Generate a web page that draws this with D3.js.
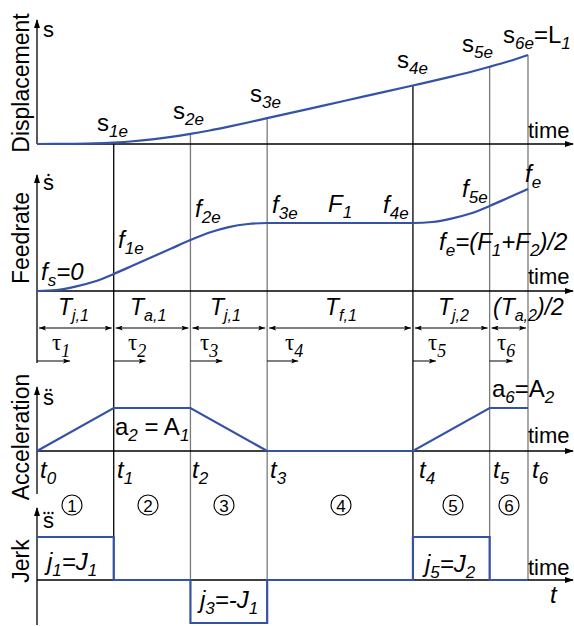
<!DOCTYPE html>
<html>
<head>
<meta charset="utf-8">
<script src="https://cdn.jsdelivr.net/npm/d3@7"></script>
<style>
  html, body { margin: 0; padding: 0; background: #fff; }
  svg { display: block; }
</style>
</head>
<body>
<svg id="chart" width="574" height="626"></svg>
<script>
// ---- data -------------------------------------------------------------
// phase boundaries t0..t6
const phaseTimes = [0, 1, 2, 3, 4.9, 5.9, 6.4];
// acceleration at each boundary (units of A1 = A2)
const accelAtBoundary = [0, 1, 1, 0, 0, 1, 1];
// jerk held constant inside each of the six phases (units of J1 = J2)
const jerkPerPhase = [1, 0, -1, 0, 1, 0];
// feedrate and displacement samples along the move
const sampleTimes  = [0, 0.25, 0.5, 0.75, 1, 1.25, 1.5, 1.75, 2, 2.25, 2.5, 2.75, 3, 3.5, 4, 4.5, 4.9, 5.15, 5.4, 5.65, 5.9, 6.15, 6.4];
const feedrate     = [0, 0.03, 0.13, 0.28, 0.5, 0.75, 1.0, 1.25, 1.5, 1.72, 1.88, 1.97, 2.0, 2.0, 2.0, 2.0, 2.0, 2.03, 2.13, 2.28, 2.5, 2.75, 3.0];
const displacement = [0, 0.003, 0.02, 0.07, 0.17, 0.32, 0.54, 0.82, 1.17, 1.57, 2.02, 2.5, 3.0, 4.0, 5.0, 6.0, 6.8, 7.3, 7.82, 8.37, 8.97, 9.61, 10.34];
// displacement at each phase boundary
const dispAtBoundary = [0, 0.17, 1.17, 3.0, 6.8, 8.97, 10.34];
// interval names above the double arrows
const intervalNames = [
  [["T", "i"], ["j,1", "sub"]],
  [["T", "i"], ["a,1", "sub"]],
  [["T", "i"], ["j,1", "sub"]],
  [["T", "i"], ["f,1", "sub"]],
  [["T", "i"], ["j,2", "sub"]],
  [["(T", "i"], ["a,2", "sub"], [")/2", "i"]]
];
const tauNames = ["1", "2", "3", "4", "5", "6"];
const phaseNumbers = ["1", "2", "3", "4", "5", "6"];
const boundaryNames = ["0", "1", "2", "3", "4", "5", "6"];
const panelTitles = ["Displacement", "Feedrate", "Acceleration", "Jerk"];

// ---- layout -----------------------------------------------------------
const svg = d3.select("#chart");
const BLUE = "#3553a6";
const GREY = "#7a7a7a";
const SANS = "'Liberation Sans', Arial, sans-serif";
const SERIF = "'Liberation Serif', 'Times New Roman', serif";
const X_END = 573;

const x  = d3.scaleLinear().domain([0, 6.4]).range([37, 528]);
const yS = d3.scaleLinear().domain([0, 10.34]).range([144, 55]);
const yF = d3.scaleLinear().domain([0, 3]).range([291, 189]);
const yA = d3.scaleLinear().domain([0, 1]).range([451, 408]);
const yJ = d3.scaleLinear().domain([-1, 1]).range([623, 537]);

// arrow heads
const defs = svg.append("defs");
function marker(id, path, w, h, refX, refY) {
  defs.append("marker").attr("id", id)
    .attr("markerUnits", "userSpaceOnUse")
    .attr("markerWidth", w).attr("markerHeight", h)
    .attr("refX", refX).attr("refY", refY)
    .attr("orient", "auto")
    .append("path").attr("d", path).attr("fill", "#000");
}
marker("axisHead", "M0,0 L9,3 L0,6 Z", 9, 6, 8, 3);
marker("smallHead", "M0,0 L7,2.5 L0,5 L1.5,2.5 Z", 7, 5, 7, 2.5);
marker("smallTail", "M7,0 L0,2.5 L7,5 L5.5,2.5 Z", 7, 5, 0, 2.5);

// text with italic / subscript runs
function rich(x0, y0, parts, opt = {}) {
  const size = opt.size || 22;
  const sub = opt.sub || 15;
  const shift = opt.shift || 6;
  const t = svg.append("text")
    .attr("x", x0).attr("y", y0)
    .attr("font-family", opt.family || SANS)
    .attr("font-size", size)
    .attr("fill", "#000");
  let inSub = false;
  parts.forEach(([str, kind]) => {
    const s = t.append("tspan").text(str);
    const isSub = kind === "sub" || kind === "subn";
    if (isSub && !inSub) s.attr("dy", shift);
    if (!isSub && inSub) s.attr("dy", -shift);
    inSub = isSub;
    s.attr("font-size", isSub ? sub : size)
     .attr("font-style", (kind === "i" || kind === "sub") ? "italic" : "normal");
  });
  if (opt.anchor) t.attr("text-anchor", opt.anchor);
  return t;
}

// ---- guide lines through every phase boundary ------------------------
const guideColor = ["#000", "#000", GREY, GREY, "#000", GREY, GREY];
phaseTimes.forEach((t, i) => {
  if (i === 0) return;
  svg.append("line")
    .attr("x1", x(t)).attr("x2", x(t))
    .attr("y1", yS(dispAtBoundary[i])).attr("y2", yJ(0))
    .attr("stroke", guideColor[i]).attr("stroke-width", 1.3);
});

// ---- axes --------------------------------------------------------------
function axisLine(x1, y1, x2, y2, head) {
  const l = svg.append("line")
    .attr("x1", x1).attr("y1", y1).attr("x2", x2).attr("y2", y2)
    .attr("stroke", "#000").attr("stroke-width", 1.3);
  if (head) l.attr("marker-end", "url(#axisHead)");
}
// horizontal time axes
axisLine(x(0), yS(0), X_END, yS(0), true);
axisLine(x(0), yF(0), X_END, yF(0), true);
axisLine(x(0), yA(0), X_END, yA(0), true);
axisLine(x(0), yJ(0), X_END, yJ(0), true);
// vertical value axes
axisLine(x(0), yS(0), x(0), 20, true);
axisLine(x(0), 363, x(0), 175, true);
axisLine(x(0), 494, x(0), 387, true);
axisLine(x(0), 625, x(0), 508, true);

// ---- curves -----------------------------------------------------------
const pts = sampleTimes.map((t, i) => ({ t, f: feedrate[i], s: displacement[i] }));

svg.append("path").datum(pts)
  .attr("fill", "none").attr("stroke", BLUE).attr("stroke-width", 2.2)
  .attr("d", d3.line().x(d => x(d.t)).y(d => yS(d.s)).curve(d3.curveMonotoneX));

svg.append("path").datum(pts)
  .attr("fill", "none").attr("stroke", BLUE).attr("stroke-width", 2.2)
  .attr("d", d3.line().x(d => x(d.t)).y(d => yF(d.f)).curve(d3.curveMonotoneX));

svg.append("path").datum(phaseTimes.map((t, i) => [t, accelAtBoundary[i]]))
  .attr("fill", "none").attr("stroke", BLUE).attr("stroke-width", 2.2)
  .attr("d", d3.line().x(d => x(d[0])).y(d => yA(d[1])));

const jerkSteps = [];
jerkPerPhase.forEach((j, i) => {
  jerkSteps.push([phaseTimes[i], j], [phaseTimes[i + 1], j]);
});
svg.append("path").datum(jerkSteps)
  .attr("fill", "none").attr("stroke", BLUE).attr("stroke-width", 2.2)
  .attr("stroke-linejoin", "miter")
  .attr("d", d3.line().x(d => x(d[0])).y(d => yJ(d[1])));

// ---- interval row -----------------------------------------------------
const rowArrowY = 328, tauArrowY = 361;
const tauLen = [33, 32, 32, 31, 23, 23];
const intervalX = [58, 130, 210, 325, 438, 493];
const tauX = [52, 128, 200, 285, 428, 497];
phaseTimes.slice(0, 6).forEach((t, i) => {
  const a = x(t), b = x(phaseTimes[i + 1]);
  svg.append("line")
    .attr("x1", a + 2).attr("x2", b - 2)
    .attr("y1", rowArrowY).attr("y2", rowArrowY)
    .attr("stroke", "#000").attr("stroke-width", 1)
    .attr("marker-start", "url(#smallTail)")
    .attr("marker-end", "url(#smallHead)");
  svg.append("line")
    .attr("x1", a).attr("x2", a + tauLen[i])
    .attr("y1", tauArrowY).attr("y2", tauArrowY)
    .attr("stroke", "#000").attr("stroke-width", 1)
    .attr("marker-end", "url(#smallHead)");
  rich(intervalX[i], 315, intervalNames[i], { size: 23, sub: 16 });
  rich(tauX[i], 350, [["τ", "n"], [tauNames[i], "sub"]],
       { family: SERIF, size: 23, sub: 18, shift: 7 });
});

// ---- panel titles ------------------------------------------------------
const titleY = [83, 238, 437, 561];
panelTitles.forEach((name, i) => {
  svg.append("text")
    .attr("transform", `translate(29,${titleY[i]}) rotate(-90)`)
    .attr("text-anchor", "middle")
    .attr("font-family", SANS).attr("font-size", 23)
    .text(name);
});

// ---- axis symbols (s with derivative dots) ----------------------------
function dotted(x0, y0, n) {
  rich(x0, y0, [["s", "n"]], { size: 22 });
  const cx = x0 + 5.5;
  for (let k = 0; k < n; k++) {
    svg.append("circle")
      .attr("cx", cx + (k - (n - 1) / 2) * 4).attr("cy", y0 - 15)
      .attr("r", 1.2).attr("fill", "#000");
  }
}
dotted(43, 37, 0);
dotted(43, 190, 1);
dotted(43, 405, 2);
dotted(43, 528, 3);

// ---- displacement labels -----------------------------------------------
rich(97, 131, [["s", "n"], ["1e", "sub"]], { size: 24, sub: 17 });
rich(173, 119, [["s", "n"], ["2e", "sub"]], { size: 24, sub: 17 });
rich(250, 102, [["s", "n"], ["3e", "sub"]], { size: 24, sub: 17 });
rich(397, 68, [["s", "n"], ["4e", "sub"]], { size: 24, sub: 17 });
rich(462, 52, [["s", "n"], ["5e", "sub"]], { size: 24, sub: 17 });
rich(503, 43, [["s", "n"], ["6e", "sub"], ["=L", "n"], ["1", "sub"]], { size: 24, sub: 17 });
rich(528, 138, [["time", "n"]], { size: 22 });

// ---- feedrate labels ---------------------------------------------------
rich(41, 280, [["f", "i"], ["s", "sub"], ["=0", "i"]], { size: 24, sub: 17 });
rich(118, 248, [["f", "i"], ["1e", "sub"]], { size: 24, sub: 17 });
rich(195, 217, [["f", "i"], ["2e", "sub"]], { size: 24, sub: 17 });
rich(272, 213, [["f", "i"], ["3e", "sub"]], { size: 24, sub: 17 });
rich(328, 212, [["F", "i"], ["1", "sub"]], { size: 24, sub: 17 });
rich(383, 213, [["f", "i"], ["4e", "sub"]], { size: 24, sub: 17 });
rich(462, 197, [["f", "i"], ["5e", "sub"]], { size: 24, sub: 17 });
rich(525, 182, [["f", "i"], ["e", "sub"]], { size: 24, sub: 17 });
rich(439, 250, [["f", "i"], ["e", "sub"], ["=(F", "i"], ["1", "sub"], ["+F", "i"], ["2", "sub"], [")/2", "i"]], { size: 24, sub: 17 });
rich(528, 284, [["time", "n"]], { size: 22 });

// ---- acceleration labels -----------------------------------------------
rich(115, 435, [["a", "n"], ["2", "sub"], [" = A", "n"], ["1", "sub"]], { size: 24, sub: 17 });
rich(492, 397, [["a", "n"], ["6", "sub"], ["=A", "n"], ["2", "sub"]], { size: 24, sub: 17 });
rich(528, 443, [["time", "n"]], { size: 22 });
const tLabelX = [40, 117, 192, 270, 419, 493, 532];
phaseTimes.forEach((t, i) => {
  rich(tLabelX[i], 478, [["t", "i"], [boundaryNames[i], "sub"]], { size: 24, sub: 17 });
});
const circleX = [72, 148, 224, 341, 453, 509];
phaseNumbers.forEach((n, i) => {
  svg.append("circle").attr("cx", circleX[i]).attr("cy", 505).attr("r", 10)
    .attr("fill", "none").attr("stroke", "#000").attr("stroke-width", 1.1);
  svg.append("text").attr("x", circleX[i]).attr("y", 511.5)
    .attr("text-anchor", "middle").attr("font-family", SANS).attr("font-size", 17)
    .text(n);
});

// ---- jerk labels ---------------------------------------------------------
rich(47, 570, [["j", "i"], ["1", "sub"], ["=J", "i"], ["1", "sub"]], { size: 24, sub: 17 });
rich(200, 608, [["j", "i"], ["3", "sub"], ["=-J", "i"], ["1", "sub"]], { size: 24, sub: 17 });
rich(425, 572, [["j", "i"], ["5", "sub"], ["=J", "i"], ["2", "sub"]], { size: 24, sub: 17 });
rich(528, 575, [["time", "n"]], { size: 22 });
rich(550, 603, [["t", "i"]], { size: 24 });
</script>
</body>
</html>
